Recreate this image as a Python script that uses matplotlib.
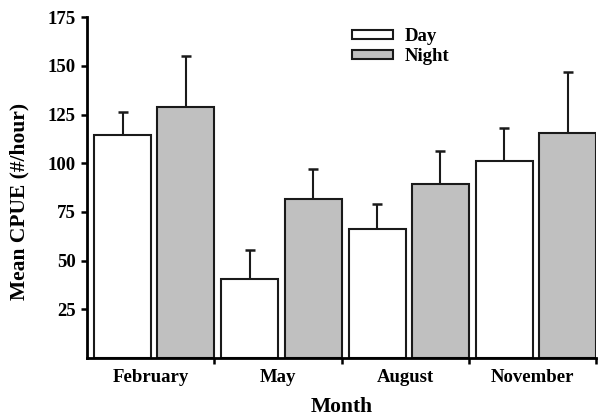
import matplotlib
matplotlib.use("Agg")
import matplotlib.pyplot as plt
import numpy as np

months = ["February", "May", "August", "November"]
day_mean = [114.6, 40.5, 66.5, 101.0]
day_err = [11.5, 15.0, 12.5, 17.0]
night_mean = [129.0, 81.5, 89.5, 115.6]
night_err = [26.0, 15.5, 17.0, 31.3]
yticks = [25, 50, 75, 100, 125, 150, 175]

plt.rcParams['font.family'] = ['Liberation Serif', 'DejaVu Serif']
plt.rcParams['font.weight'] = 'bold'

fig = plt.figure(figsize=(6.01, 4.16), dpi=100)
ax = fig.add_axes([0.1448, 0.139, 0.9917 - 0.1448, 0.959 - 0.139])

x = np.arange(len(months))
w = 0.448
edge = '#1a1a1a'
lw = 1.5
day_left = x + 0.055
night_left = x + 0.552
err_kw = dict(ecolor=edge, elinewidth=1.5, capsize=3.5, capthick=1.8)

ax.bar(day_left, day_mean, width=w, align='edge', color='white', edgecolor=edge,
       linewidth=lw, label='Day', zorder=2)
ax.bar(night_left, night_mean, width=w, align='edge', color='#c0c0c0', edgecolor=edge,
       linewidth=lw, label='Night', zorder=2)
ax.errorbar(day_left + w / 2, day_mean, yerr=[np.zeros(len(months)), day_err],
            fmt='none', zorder=1, **err_kw)
ax.errorbar(night_left + w / 2, night_mean, yerr=[np.zeros(len(months)), night_err],
            fmt='none', zorder=1, **err_kw)

ax.set_xlim(0, len(months))
ax.set_ylim(0, 175)
ax.set_yticks(yticks)
ax.set_yticklabels([str(t) for t in yticks], fontsize=13.5, fontweight='bold')
ax.set_xticks(np.arange(1, len(months) + 1))
ax.set_xticklabels([])
ax.set_xticks(x + 0.5, minor=True)
ax.set_xticklabels(months, minor=True, fontsize=13.5, fontweight='bold')
ax.tick_params(axis='x', which='minor', length=0, pad=8)
ax.tick_params(axis='x', which='major', length=4.5, width=1.8, direction='out')
ax.tick_params(axis='y', length=4.5, width=1.8, direction='out', pad=3.5)

for s in ['top', 'right']:
    ax.spines[s].set_visible(False)
for s in ['left', 'bottom']:
    ax.spines[s].set_linewidth(2)
    ax.spines[s].set_color('black')

ax.set_xlabel('Month', fontsize=15.5, fontweight='bold', labelpad=7.5)
ax.set_ylabel('Mean CPUE (#/hour)', fontsize=15.5, fontweight='bold')
ax.yaxis.set_label_coords(-0.114, 0.46)

leg = ax.legend(loc='upper left', bbox_to_anchor=(0.52, 0.967), frameon=False,
                fontsize=13.5, handlelength=2.2, handleheight=0.32,
                handletextpad=0.65, labelspacing=0.15, borderaxespad=0, borderpad=0)
for t in leg.get_texts():
    t.set_fontweight('bold')

fig.savefig('out.png', dpi=100)
